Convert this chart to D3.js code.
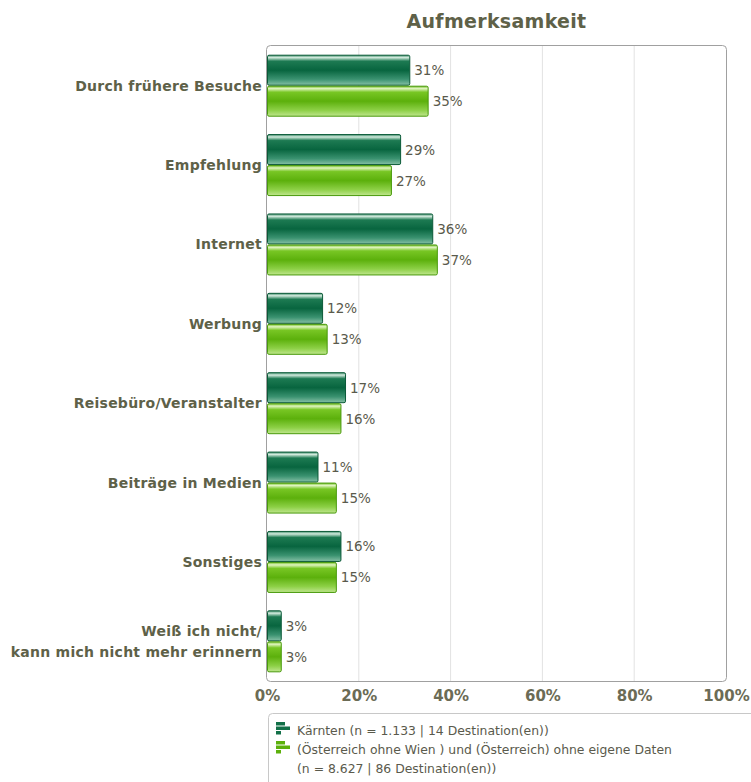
<!DOCTYPE html>
<html>
<head>
<meta charset="utf-8">
<script src="https://cdn.jsdelivr.net/npm/d3@7"></script>
<style>
  body { margin: 0; background: #fff; }
  text { font-family: "DejaVu Sans", Verdana, sans-serif; }
</style>
</head>
<body>
<div id="chart"></div>
<script>
// Data
const categories = [
  'Durch frühere Besuche',
  'Empfehlung',
  'Internet',
  'Werbung',
  'Reisebüro/Veranstalter',
  'Beiträge in Medien',
  'Sonstiges',
  'Weiß ich nicht/\nkann mich nicht mehr erinnern'
]
const kaernten = [31, 29, 36, 12, 17, 11, 16, 3]
const oesterreich = [35, 27, 37, 13, 16, 15, 15, 3]
const seriesNames = [
  ['Kärnten (n = 1.133 | 14 Destination(en))'],
  ['(Österreich ohne Wien ) und (Österreich) ohne eigene Daten', '(n = 8.627 | 86 Destination(en))']
]
const xTicks = [0, 20, 40, 60, 80, 100]

// Dimensions
const dimensions = {
  width: 751,
  height: 782,
  left: 267,
  right: 726,
  top: 46,
  bottom: 681
}

const svg = d3.select('#chart')
  .append('svg')
  .attr('width', dimensions.width)
  .attr('height', dimensions.height)

// Gradients
const defs = svg.append('defs')
const gradients = [
  { id: 'gDark', stops: [[0, '#3f8f6c'], [0.08, '#d2eadd'], [0.2, '#1d7a52'], [0.5, '#08653f'], [0.8, '#3a9270'], [1, '#86c0a6']] },
  { id: 'gLight', stops: [[0, '#74c22a'], [0.08, '#e0f4c0'], [0.2, '#78c624'], [0.5, '#5cb00c'], [0.8, '#8dd046'], [1, '#bfe68e']] }
]
gradients.forEach(g => {
  const lg = defs.append('linearGradient')
    .attr('id', g.id)
    .attr('x1', 0).attr('y1', 0).attr('x2', 0).attr('y2', 1)
  g.stops.forEach(s => lg.append('stop').attr('offset', s[0]).attr('stop-color', s[1]))
})

// Scales
const xScale = d3.scaleLinear()
  .domain([0, 100])
  .range([dimensions.left, dimensions.right])

const yScale = d3.scaleBand()
  .domain(categories)
  .range([dimensions.top, dimensions.bottom])

const subScale = d3.scaleBand()
  .domain([0, 1])
  .range([yScale.bandwidth() / 2 - 31, yScale.bandwidth() / 2 + 31])

// Title
svg.append('text')
  .attr('x', (dimensions.left + dimensions.right) / 2)
  .attr('y', 28)
  .attr('text-anchor', 'middle')
  .attr('font-size', 19)
  .attr('font-weight', 'bold')
  .attr('letter-spacing', 0.3)
  .attr('fill', '#5e6148')
  .text('Aufmerksamkeit')

// Grid
svg.append('g')
  .selectAll('line')
  .data(xTicks.slice(1, -1))
  .join('line')
  .attr('x1', d => xScale(d))
  .attr('x2', d => xScale(d))
  .attr('y1', dimensions.top)
  .attr('y2', dimensions.bottom)
  .attr('stroke', '#e2e2e2')
  .attr('stroke-width', 1)

// Plot border
svg.append('rect')
  .attr('x', dimensions.left - 0.5)
  .attr('y', dimensions.top - 0.5)
  .attr('width', dimensions.right - dimensions.left + 1)
  .attr('height', dimensions.bottom - dimensions.top + 1)
  .attr('rx', 4)
  .attr('fill', 'none')
  .attr('stroke', '#a0a0a0')
  .attr('stroke-width', 1)

// Bars
const series = [
  { values: kaernten, fill: 'url(#gDark)', stroke: '#0b5a38' },
  { values: oesterreich, fill: 'url(#gLight)', stroke: '#4a9a0c' }
]

series.forEach((s, si) => {
  const g = svg.append('g')
  const rows = categories.map((c, i) => ({ cat: c, value: s.values[i] }))
  g.selectAll('rect')
    .data(rows)
    .join('rect')
    .attr('x', xScale(0) + 0.5)
    .attr('y', d => yScale(d.cat) + subScale(si) + 0.5)
    .attr('width', d => xScale(d.value) - xScale(0))
    .attr('height', subScale.bandwidth() - 1)
    .attr('rx', 1.5)
    .attr('fill', s.fill)
    .attr('stroke', s.stroke)
    .attr('stroke-width', 1)

  g.selectAll('text')
    .data(rows)
    .join('text')
    .attr('x', d => xScale(d.value) + 5)
    .attr('y', d => yScale(d.cat) + subScale(si) + subScale.bandwidth() / 2 + 5)
    .attr('font-size', 13.5)
    .attr('fill', '#5a5a4c')
    .text(d => d.value + '%')
})

// Category labels
const catLabels = svg.append('g')
  .selectAll('text')
  .data(categories)
  .join('text')
  .attr('text-anchor', 'end')
  .attr('font-size', 14)
  .attr('font-weight', 'bold')
  .attr('letter-spacing', 0.25)
  .attr('fill', '#5e6148')
  .attr('transform', d => {
    const lines = d.split('\n').length
    return `translate(${dimensions.left - 5}, ${yScale(d) + yScale.bandwidth() / 2 + 5 - (lines - 1) * 10})`
  })

catLabels.selectAll('tspan')
  .data(d => d.split('\n'))
  .join('tspan')
  .attr('x', 0)
  .attr('dy', (d, i) => i === 0 ? 0 : 21)
  .text(d => d)

// X axis
const xAxis = d3.axisBottom(xScale)
  .tickValues(xTicks)
  .tickFormat(d => d + '%')
  .tickSize(0)
  .tickPadding(9)

const axisG = svg.append('g')
  .attr('transform', `translate(0, ${dimensions.bottom})`)
  .call(xAxis)
axisG.select('.domain').remove()
axisG.selectAll('text')
  .attr('font-size', 15)
  .attr('font-weight', 'bold')
  .attr('fill', '#6b6b55')
  .style('font-family', '"DejaVu Sans", Verdana, sans-serif')

// Legend
const legend = svg.append('g')
legend.append('rect')
  .attr('x', 268.5)
  .attr('y', 713.5)
  .attr('width', 500)
  .attr('height', 100)
  .attr('rx', 4)
  .attr('fill', '#fff')
  .attr('stroke', '#c8c8c8')

const legendColors = ['#127048', '#5cb00c']
const legendY = [731, 750]
seriesNames.forEach((lines, i) => {
  const y = legendY[i]
  const icon = legend.append('g').attr('transform', `translate(276, ${y - 9})`)
  icon.selectAll('rect')
    .data([[0, 9], [4.5, 14], [9, 5]])
    .join('rect')
    .attr('x', 0)
    .attr('y', d => d[0])
    .attr('width', d => d[1])
    .attr('height', 3.5)
    .attr('fill', legendColors[i])
  const t = legend.append('text')
    .attr('x', 297)
    .attr('y', y + 4)
    .attr('font-size', 12.4)
    .attr('fill', '#5a5a4c')
  t.selectAll('tspan')
    .data(lines)
    .join('tspan')
    .attr('x', 297)
    .attr('dy', (d, j) => j === 0 ? 0 : 19)
    .text(d => d)
})
</script>
</body>
</html>
